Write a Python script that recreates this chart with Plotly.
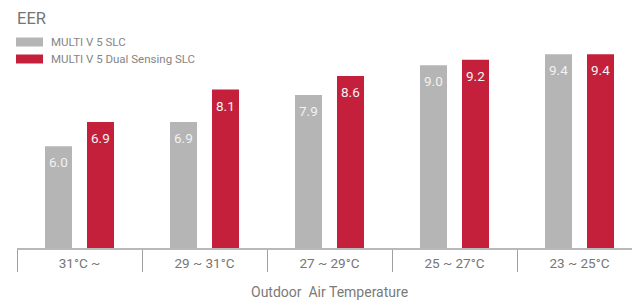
import plotly.graph_objects as go

categories = ["31°C ~", "29 ~ 31°C", "27 ~ 29°C", "25 ~ 27°C", "23 ~ 25°C"]
series_names = ["MULTI V 5 SLC", "MULTI V 5 Dual Sensing SLC"]
slc_values = [6.0, 6.9, 7.9, 9.0, 9.4]
dual_values = [6.9, 8.1, 8.6, 9.2, 9.4]
chart_title = "EER"
x_title = "Outdoor  Air Temperature"

colors = ["#b4b5b4", "#c4203b"]
FONT = "Roboto"

W, H = 632, 302
ML, MR, MT, MB = 17, 0, 30, 54
PW, PH = W - ML - MR, H - MT - MB


def px_x(p):
    return (p - ML) / PW


def px_y(p):
    return (H - MB - p) / PH


fig = go.Figure()
offsets = [-0.276, 0.06]
bar_w = 0.216
for name, vals, col, off in zip(series_names, [slc_values, dual_values], colors, offsets):
    fig.add_trace(go.Bar(
        x=categories, y=vals, name=name, marker=dict(color=col, line=dict(width=0)),
        width=bar_w, offset=off, showlegend=False, hoverinfo="x+y",
    ))

annotations = []
for vals, shift in zip([slc_values, dual_values], [-21, 21]):
    for c, v in zip(categories, vals):
        annotations.append(dict(
            x=c, y=v, xref="x", yref="y", xshift=shift, yshift=-16,
            text=f"{v:.1f}", showarrow=False, xanchor="center", yanchor="middle",
            font=dict(family=FONT, size=13.5, color="#f2f2f2"),
        ))

# chart title
annotations.append(dict(
    x=px_x(15), y=px_y(18), xref="paper", yref="paper", text=chart_title,
    showarrow=False, xanchor="left", yanchor="middle",
    font=dict(family=FONT, size=16.5, color="#757575"),
))
# axis title
annotations.append(dict(
    x=categories[2], y=px_y(292), xref="x", yref="paper", text=x_title,
    showarrow=False, xanchor="center", yanchor="middle",
    font=dict(family=FONT, size=14, color="#7a7a7a"),
))

# manual legend
shapes = []
legend_rows = [42, 59]
for name, col, yc in zip(series_names, colors, legend_rows):
    shapes.append(dict(
        type="rect", xref="paper", yref="paper",
        x0=px_x(16), x1=px_x(43), y0=px_y(yc - 4.5), y1=px_y(yc + 4.5),
        fillcolor=col, line=dict(width=0),
    ))
    annotations.append(dict(
        x=px_x(49), y=px_y(yc), xref="paper", yref="paper", text=name,
        showarrow=False, xanchor="left", yanchor="middle",
        font=dict(family=FONT, size=11.5, color="#858585"),
    ))

fig.update_layout(
    width=W, height=H,
    margin=dict(l=ML, r=MR, t=MT, b=MB, pad=0),
    paper_bgcolor="white", plot_bgcolor="white",
    barmode="overlay",
    showlegend=False,
    annotations=annotations,
    shapes=shapes,
    xaxis=dict(
        type="category", range=[-0.5, 4.42],
        showline=True, linecolor="#b8b8b8", linewidth=1.5,
        ticks="outside", tickson="boundaries", ticklen=22, tickwidth=1, tickcolor="#a0a0a0",
        tickfont=dict(family=FONT, size=13.5, color="#767676"),
        ticklabelstandoff=2,
        showgrid=False, zeroline=False, fixedrange=True,
    ),
    yaxis=dict(
        range=[2.243, 10.30], visible=False, showgrid=False, zeroline=False, fixedrange=True,
    ),
)

fig.write_html(
    "out.html",
    config={"displayModeBar": False},
    post_script="document.body.style.margin='0';document.body.style.padding='0';",
)
